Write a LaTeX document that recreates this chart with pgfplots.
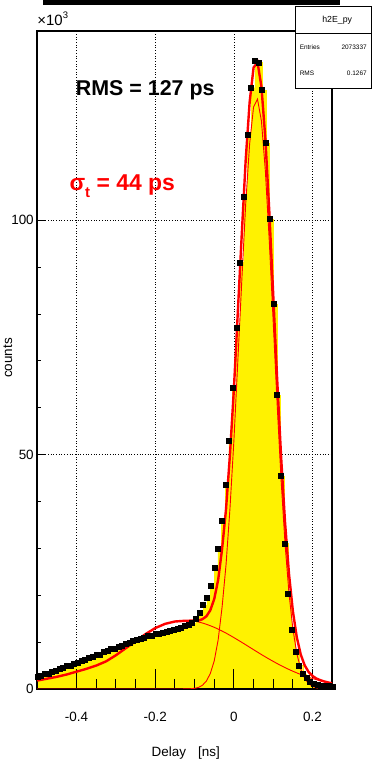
\documentclass[border=0pt]{standalone}
\usepackage{fontspec}
\setmainfont{Liberation Sans}
\usepackage{pgfplots}
\usepackage{pgfplotstable}
\pgfplotsset{compat=1.18}

\pgfplotstableread{
x y
-0.5 2.6
-0.490625 2.8
-0.48125 3.2
-0.471875 3.3
-0.4625 3.7
-0.453125 3.8
-0.44375 4.3
-0.434375 4.5
-0.425 4.9
-0.415625 5.0
-0.40625 5.5
-0.396875 5.6
-0.3875 6.1
-0.378125 6.2
-0.36875 6.7
-0.359375 6.9
-0.35 7.3
-0.340625 7.4
-0.33125 7.9
-0.321875 8.1
-0.3125 8.5
-0.303125 8.7
-0.29375 9.1
-0.284375 9.3
-0.275 9.7
-0.265625 9.9
-0.25625 10.3
-0.246875 10.5
-0.2375 10.8
-0.228125 10.9
-0.21875 11.3
-0.209375 11.4
-0.2 11.7
-0.190625 11.8
-0.18125 12.1
-0.171875 12.2
-0.1625 12.5
-0.153125 12.6
-0.14375 12.9
-0.134375 13.1
-0.125 13.4
-0.115625 13.7
-0.10625 14.1
-0.096875 14.9
-0.0875 16.2
-0.078125 17.9
-0.06875 19.5
-0.059375 22.0
-0.05 25.8
-0.040625 29.9
-0.03125 35.9
-0.021875 43.5
-0.0125 52.9
-0.003125 64.3
0.00625 77.0
0.015625 91.0
0.025 105.1
0.034375 118.2
0.04375 128.3
0.053125 134.0
0.0625 133.7
0.071875 127.8
0.08125 116.5
0.090625 100.3
0.1 82.2
0.109375 62.7
0.11875 45.5
0.128125 31.1
0.1375 20.3
0.146875 12.6
0.15625 7.9
0.165625 5.0
0.175 3.2
0.184375 2.5
0.19375 1.6
0.203125 1.2
0.2125 1.0
0.221875 0.8
0.23125 0.7
0.240625 0.6
0.25 0.5
}\datatable

\begin{document}
\begin{tikzpicture}
\begin{axis}[
  at={(0,0)}, anchor=south west,
  scale only axis, width=295bp, height=658bp,
  xmin=-0.5, xmax=0.25, ymin=0, ymax=140.4,
  set layers,
  axis line style={line width=1.5bp},
  tick align=inside, tick pos=left,
  xtick={-0.4,-0.2,0,0.2}, xticklabels={-0.4,-0.2,0,0.2},
  ytick={0,50,100}, yticklabels={0,50,100},
  minor x tick num=3,
  major tick length=20bp, minor tick length=10bp,
  every tick/.append style={black, line width=1bp},
  ytick style={draw=none},
  grid=major,
  major grid style={black, line width=0.7bp, dotted, /pgfplots/on layer=axis background},
  ticklabel style={font=\fontsize{13.5}{16}\selectfont},
  xticklabel style={yshift=-19.5bp},
]
% data histogram (yellow)
\addplot[const plot mark left, fill=yellow, draw=yellow, on layer=axis grid] table {\datatable} \closedcycle;
% broad component (thin)
\addplot[red, line width=0.9bp, smooth] table {
x y
-0.5 1.8
-0.475 2.2
-0.45 2.6
-0.425 3.1
-0.4 3.7
-0.375 4.3
-0.35 5.0
-0.325 5.9
-0.3 7.2
-0.275 8.7
-0.25 10.2
-0.225 11.7
-0.2 13.0
-0.175 13.9
-0.15 14.4
-0.125 14.55
-0.1 14.47
-0.075 13.95
-0.05 13.16
-0.025 12.15
0 10.97
0.025 9.70
0.05 8.39
0.075 7.10
0.1 5.89
0.125 4.77
0.15 3.79
0.175 2.94
0.2 2.23
0.225 1.66
0.25 1.21
};
% peak component (thin)
\addplot[red, line width=0.9bp] table {
x y
-0.5 0
-0.2 0
-0.14 0.0
-0.13 0.01
-0.12 0.02
-0.11 0.06
-0.10 0.15
-0.09 0.34
-0.08 0.8
-0.07 1.7
-0.06 3.3
-0.05 6.0
-0.04 10.5
-0.03 17.5
-0.02 26.5
-0.01 38.5
0.00 53.0
0.01 70.0
0.02 87.0
0.03 103.5
0.04 116.3
0.05 124.2
0.06 125.86
0.07 121.19
0.08 110.54
0.09 95.52
0.10 78.19
0.11 60.64
0.12 44.55
0.13 31.01
0.14 20.45
0.15 12.78
0.16 7.56
0.17 4.24
0.18 2.25
0.19 1.13
0.20 0.54
0.21 0.24
0.22 0.10
0.23 0.04
0.25 0.0
};
% total fit (thick)
\addplot[red, line width=2.4bp] table {
x y
-0.5 1.8
-0.475 2.2
-0.45 2.6
-0.425 3.1
-0.4 3.7
-0.375 4.3
-0.35 5.0
-0.325 5.9
-0.3 7.2
-0.275 8.7
-0.25 10.2
-0.225 11.7
-0.2 13.0
-0.175 13.9
-0.15 14.4
-0.125 14.55
-0.10 14.6
-0.09 14.6
-0.08 14.9
-0.07 15.5
-0.06 16.8
-0.05 19.2
-0.04 23.3
-0.03 29.9
-0.02 38.4
-0.01 50.0
0.00 64.0
0.01 80.5
0.02 97.0
0.03 112.9
0.04 125.2
0.05 132.6
0.06 133.73
0.07 128.55
0.08 117.39
0.09 101.88
0.10 84.08
0.11 66.07
0.12 49.53
0.13 35.57
0.14 24.61
0.15 16.57
0.16 10.99
0.17 7.34
0.18 5.04
0.19 3.63
0.20 2.77
0.21 2.23
0.22 1.87
0.23 1.60
0.24 1.39
0.25 1.21
};
% data points
\addplot[only marks, mark=square*, mark size=2.5bp, black] table {\datatable};
\end{axis}
% y ticks (shorter, as in the original)
\begin{axis}[
  at={(0,0)}, anchor=south west,
  scale only axis, width=295bp, height=658bp,
  xmin=-0.5, xmax=0.25, ymin=0, ymax=140.4,
  axis line style={draw=none},
  tick align=inside, ytick pos=left,
  xtick=\empty, ytick={0,50,100}, yticklabels={},
  minor y tick num=4,
  major tick length=8bp, minor tick length=4bp,
  every tick/.append style={black, line width=1bp},
]
\end{axis}
% axis titles
\node[font=\fontsize{13.5}{16}\selectfont] at (148.5bp,-64bp) {Delay\hspace{12bp}[ns]};
\node[font=\fontsize{13.5}{16}\selectfont, rotate=90] at (-29.5bp,331bp) {counts};
\node[font=\fontsize{15}{17}\selectfont, anchor=south west, inner sep=0pt] at (0bp,663bp) {×10\raisebox{0.45em}{\fontsize{9.5}{10}\selectfont 3}};
% annotations
\node[font=\bfseries\fontsize{21.5}{24}\selectfont] at (108bp,599bp) {RMS = 127 ps};
\node[red, font=\bfseries\fontsize{23}{26}\selectfont] at (85bp,503bp) {σ\raisebox{-0.3em}{\fontsize{15}{16}\selectfont t} = 44 ps};
% top bar and stats box
\fill[black] (6bp,684bp) rectangle (303bp,689bp);
\draw[fill=white, line width=0.8bp] (258bp,601bp) rectangle (334.6bp,683bp);
\draw[line width=0.8bp] (258bp,656bp) -- (334.6bp,656bp);
\node[font=\fontsize{8.8}{10}\selectfont] at (300bp,669bp) {h2E\_py};
\node[font=\fontsize{6.5}{8}\selectfont, anchor=west] at (259bp,642bp) {Entries};
\node[font=\fontsize{6.5}{8}\selectfont, anchor=east] at (333bp,642bp) {2073337};
\node[font=\fontsize{6.5}{8}\selectfont, anchor=west] at (259bp,616bp) {RMS};
\node[font=\fontsize{6.5}{8}\selectfont, anchor=east] at (333bp,616bp) {0.1267};
\path (-37bp,-79bp) rectangle (335bp,689bp);
\end{tikzpicture}
\end{document}
